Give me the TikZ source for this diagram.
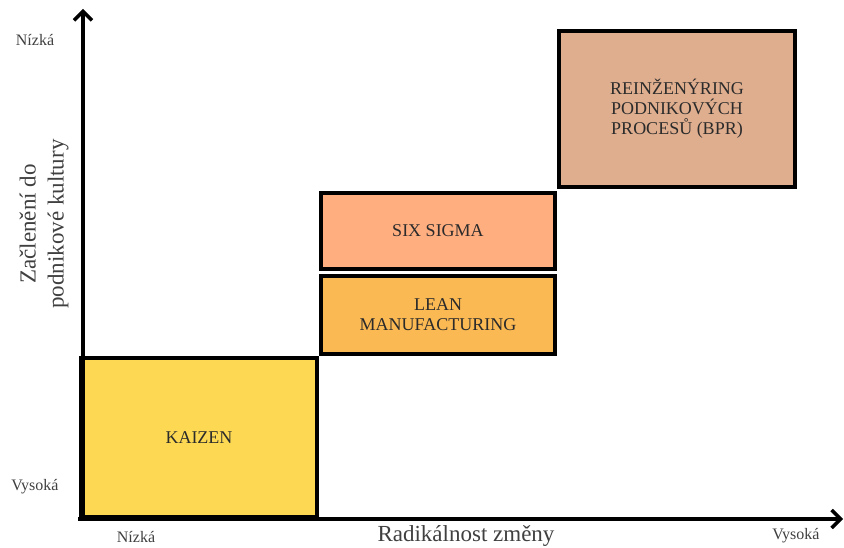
\documentclass[tikz,border=0pt]{standalone}
\usepackage{fontspec}
\setmainfont{Liberation Serif}
\usetikzlibrary{arrows.meta}
\definecolor{kaizenc}{HTML}{FDD953}
\definecolor{sixc}{HTML}{FFAE80}
\definecolor{leanc}{HTML}{FBB953}
\definecolor{bprc}{HTML}{DFAE8F}
\definecolor{txtc}{HTML}{2B2B2B}
\definecolor{axtxt}{HTML}{404040}
\begin{document}
\begin{tikzpicture}[x=1pt,y=-1pt,
  mbox/.style={draw=black, line width=4pt, rectangle, inner sep=0pt, align=center,
    text=txtc, font=\rmfamily\fontsize{18}{20}\selectfont},
  axis/.style={line width=3.5pt, -{Straight Barb[length=9pt,width=18pt,line width=3.5pt]}},
  small/.style={text=axtxt, font=\rmfamily\fontsize{16}{19}\selectfont},
  big/.style={text=axtxt, font=\rmfamily\fontsize{23}{28}\selectfont, align=center}]
\useasboundingbox (0,0) rectangle (844,548);
\fill[white] (0,0) rectangle (844,548);
% boxes
\node[mbox, fill=kaizenc, minimum width=236pt, minimum height=159pt] (kaizen) at (199,437.5) {KAIZEN};
\node[mbox, fill=sixc, minimum width=234pt, minimum height=76pt] (six) at (438,231) {SIX SIGMA};
\node[mbox, fill=leanc, minimum width=234pt, minimum height=78pt] (lean) at (438,315) {LEAN\\MANUFACTURING};
\node[mbox, fill=bprc, minimum width=236pt, minimum height=156pt] (bpr) at (677,109)
  {REINŽENÝRING\\PODNIKOVÝCH\\PROCESŮ (BPR)};
% axes
\coordinate (o1) at (78,519);
\coordinate (xend) at (843,519);
\coordinate (o2) at (83,521);
\coordinate (yend) at (83,9);
\draw[axis] (o1) -- (xend);
\draw[axis] (o2) -- (yend);
% labels
\node[small] (ylow) at (35,40) {Nízká};
\node[small] (yhigh) at (35,487) {Vysoká};
\node[small] (xlow) at (136,537) {Nízká};
\node[small] (xhigh) at (796,536) {Vysoká};
\node[big] (xlab) at (466,536) {Radikálnost změny};
\node[big, rotate=90] (ylab) at (44,224) {Začlenění do\\podnikové kultury};
\end{tikzpicture}
\end{document}
